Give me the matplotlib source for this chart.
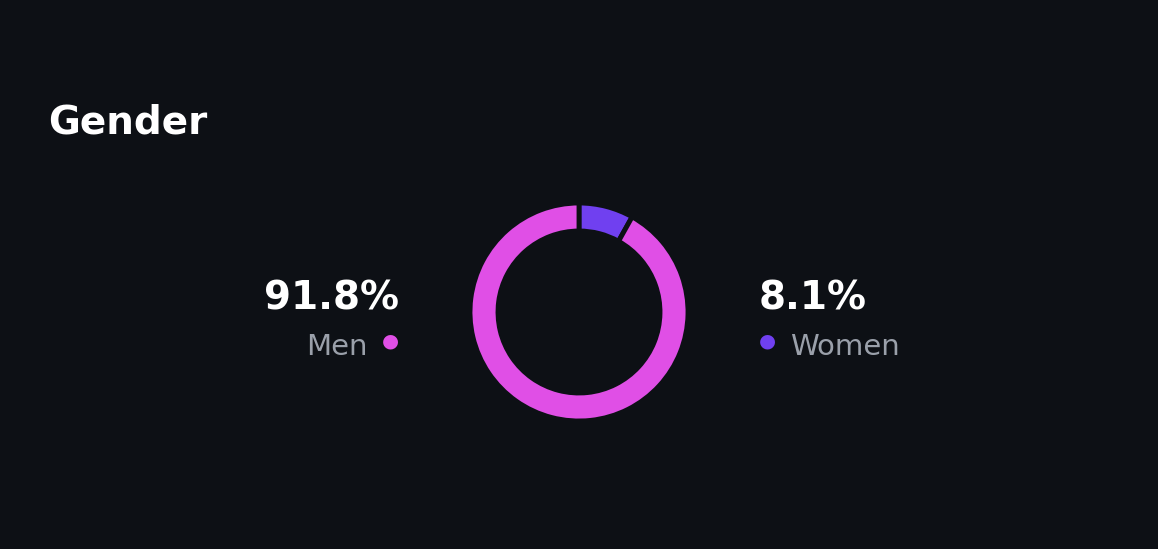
import matplotlib
matplotlib.use("Agg")
import matplotlib.pyplot as plt

labels = ["Women", "Men"]
values = [8.1, 91.8]
colors = ["#7040F0", "#E04FE6"]
pct_labels = ["8.1%", "91.8%"]
bg = "#0D1015"

W, H = 1158, 549
fig = plt.figure(figsize=(W/100, H/100), dpi=100, facecolor=bg)
cx, cy, R = 579, 312, 109
ax = fig.add_axes([(cx-110)/W, (H-cy-110)/H, 220/W, 220/H])
ax.set_facecolor(bg)
ax.pie(values, colors=colors, startangle=90, counterclock=False, radius=R/110,
       wedgeprops=dict(width=28/110, edgecolor=bg, linewidth=3.5))
ax.set_xlim(-1, 1); ax.set_ylim(-1, 1)
ax.set_xlim(-1.0, 1.0)
ax.axis("off")

def fx(x): return x/W
def fy(y): return 1 - y/H

fig.text(fx(48), fy(133), "Gender", color="white", fontsize=28, fontweight="bold", va="baseline")
fig.text(fx(399), fy(310), pct_labels[1], color="white", fontsize=28, fontweight="bold", ha="right", va="baseline")
fig.text(fx(368), fy(355), labels[1], color="#9AA0AA", fontsize=21, ha="right", va="baseline")
fig.text(fx(759), fy(310), pct_labels[0], color="white", fontsize=28, fontweight="bold", ha="left", va="baseline")
fig.text(fx(790), fy(355), labels[0], color="#9AA0AA", fontsize=21, ha="left", va="baseline")
fig.text(fx(390), fy(341), "●", color=colors[1], fontsize=14, ha="center", va="center")
fig.text(fx(767), fy(341), "●", color=colors[0], fontsize=14, ha="center", va="center")

fig.savefig("out.png", dpi=100, facecolor=bg)
